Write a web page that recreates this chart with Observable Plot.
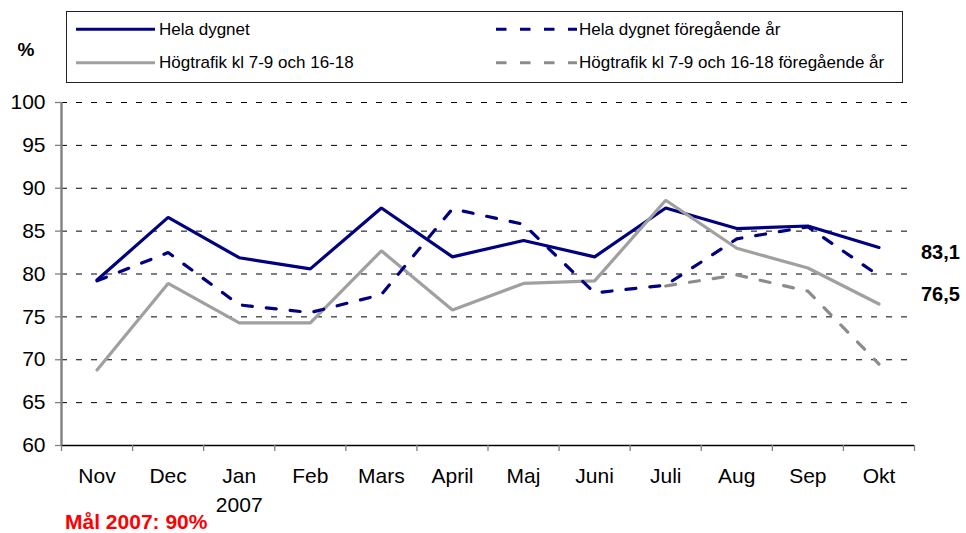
<!DOCTYPE html>
<html>
<head>
<meta charset="utf-8">
<script src="https://cdn.jsdelivr.net/npm/d3@7"></script>
<script src="https://cdn.jsdelivr.net/npm/@observablehq/plot@0.6"></script>
<style>
  html, body { margin: 0; padding: 0; background: white; }
  #wrap { position: relative; width: 966px; height: 533px; font-family: "Liberation Sans", Arial, sans-serif; }
  #wrap > svg { position: absolute; left: 0; top: 0; }
  #overlay { position: absolute; left: 0; top: 0; pointer-events: none; }
</style>
</head>
<body>
<div id="wrap"></div>
<script>
// ---- data ----
const months = ["Nov", "Dec", "Jan", "Feb", "Mars", "April", "Maj", "Juni", "Juli", "Aug", "Sep", "Okt"];
const monthLabels = ["Nov", "Dec", "Jan\n2007", "Feb", "Mars", "April", "Maj", "Juni", "Juli", "Aug", "Sep", "Okt"];
const helaDygnet   = [79.3, 86.6, 81.9, 80.6, 87.7, 82.0, 83.9, 82.0, 87.7, 85.3, 85.6, 83.1];
const helaDygnetFg = [79.2, 82.5, 76.4, 75.5, 77.6, 87.6, 85.8, 77.8, 78.7, 84.1, 85.5, 79.8];
const hogtrafik    = [68.8, 78.9, 74.3, 74.3, 82.7, 75.8, 78.9, 79.2, 88.6, 83.0, 80.7, 76.5];
const hogtrafikFg  = [null, null, null, null, null, null, null, null, 78.6, 79.9, 78.0, 69.5];
const yTicks = [60, 65, 70, 75, 80, 85, 90, 95, 100];
const gridTicks = [65, 70, 75, 80, 85, 90, 95, 100];
const seriesNames = ["Hela dygnet", "Hela dygnet föregående år", "Högtrafik kl 7-9 och 16-18", "Högtrafik kl 7-9 och 16-18 föregående år"];
const goalText = "Mål 2007: 90%";

const NAVY = "#000080", GRAY = "#a0a0a0", DGRAY = "#8c8c8c";
const toRows = arr => arr.map((v, i) => ({ i: i + 0.5, v })).filter(d => d.v != null);
const fmt = v => v.toFixed(1).replace(".", ",");

const lastHela = toRows(helaDygnet).slice(-1);
const lastHog = toRows(hogtrafik).slice(-1);

const chart = Plot.plot({
  width: 966,
  height: 533,
  marginTop: 102,
  marginBottom: 88,
  marginLeft: 61,
  marginRight: 52,
  x: { domain: [0, months.length], axis: null },
  y: { domain: [60, 100], axis: null },
  style: { fontFamily: "'Liberation Sans', Arial, sans-serif", background: "white", overflow: "visible", color: "black" },
  marks: [
    Plot.ruleY(gridTicks, { stroke: "black", strokeWidth: 1, strokeDasharray: "6,9" }),
    Plot.ruleY([60], { stroke: "black", strokeWidth: 1.3 }),
    Plot.axisY({ ticks: yTicks, tickSize: 6, tickFormat: () => "", stroke: "#808080", strokeWidth: 1.3, label: null }),
    Plot.axisY({ ticks: yTicks, tickSize: 0, tickPadding: 16, fontSize: 21, label: null }),
    Plot.axisX({ ticks: d3.range(months.length + 1), tickSize: 6, tickFormat: () => "", stroke: "#808080", strokeWidth: 1.3, label: null }),
    Plot.axisX({ ticks: d3.range(months.length).map(i => i + 0.5), tickFormat: d => monthLabels[Math.floor(d)], tickSize: 0, tickPadding: 17, fontSize: 21, lineHeight: 1.37, label: null }),
    Plot.ruleX([0], { stroke: "#808080", strokeWidth: 2.4 }),
    Plot.line(toRows(helaDygnet), { x: "i", y: "v", stroke: NAVY, strokeWidth: 3.2, strokeLinejoin: "miter" }),
    Plot.line(toRows(hogtrafik), { x: "i", y: "v", stroke: GRAY, strokeWidth: 3.2, strokeLinejoin: "miter" }),
    Plot.line(toRows(helaDygnetFg), { x: "i", y: "v", stroke: NAVY, strokeWidth: 3.2, strokeDasharray: "10,14", strokeLinejoin: "miter" }),
    Plot.line(toRows(hogtrafikFg), { x: "i", y: "v", stroke: DGRAY, strokeWidth: 3.2, strokeDasharray: "10,14", strokeLinejoin: "miter" }),
    Plot.text(lastHela, { x: "i", y: "v", text: d => fmt(d.v), dx: 42, dy: 5, textAnchor: "start", fontWeight: "bold", fontSize: 20, fill: "black" }),
    Plot.text(lastHog, { x: "i", y: "v", text: d => fmt(d.v), dx: 42, dy: -9, textAnchor: "start", fontWeight: "bold", fontSize: 20, fill: "black" })
  ]
});

const wrap = document.getElementById("wrap");
wrap.appendChild(chart);

// ---- overlay: legend, % label, goal ----
const ov = d3.select(wrap).append("svg")
  .attr("id", "overlay")
  .attr("width", 966).attr("height", 533)
  .style("font-family", "'Liberation Sans', Arial, sans-serif");

ov.append("rect").attr("x", 66.5).attr("y", 11.5).attr("width", 836).attr("height", 71)
  .attr("fill", "white").attr("stroke", "#222").attr("stroke-width", 1);

const legendItems = [
  { name: seriesNames[0], color: NAVY, dash: null, x0: 76, x1: 155, tx: 159, ly: 29.3, ty: 35 },
  { name: seriesNames[1], color: NAVY, dash: "10.5,13.5", x0: 496, x1: 577, tx: 579, ly: 29.3, ty: 35 },
  { name: seriesNames[2], color: GRAY, dash: null, x0: 76, x1: 155, tx: 159, ly: 62.7, ty: 68 },
  { name: seriesNames[3], color: DGRAY, dash: "10.5,13.5", x0: 496, x1: 577, tx: 579, ly: 62.7, ty: 68 }
];
for (const it of legendItems) {
  ov.append("line").attr("x1", it.x0).attr("x2", it.x1).attr("y1", it.ly).attr("y2", it.ly)
    .attr("stroke", it.color).attr("stroke-width", 3)
    .attr("stroke-dasharray", it.dash);
  ov.append("text").attr("x", it.tx).attr("y", it.ty).attr("font-size", 17).attr("fill", "black").text(it.name);
}

ov.append("text").attr("x", 26).attr("y", 56).attr("text-anchor", "middle")
  .attr("font-size", 19).attr("font-weight", "bold").attr("fill", "black").text("%");

ov.append("text").attr("x", 65).attr("y", 529)
  .attr("font-size", 21).attr("font-weight", "bold").attr("fill", "#ff0000").text(goalText);
</script>
</body>
</html>
